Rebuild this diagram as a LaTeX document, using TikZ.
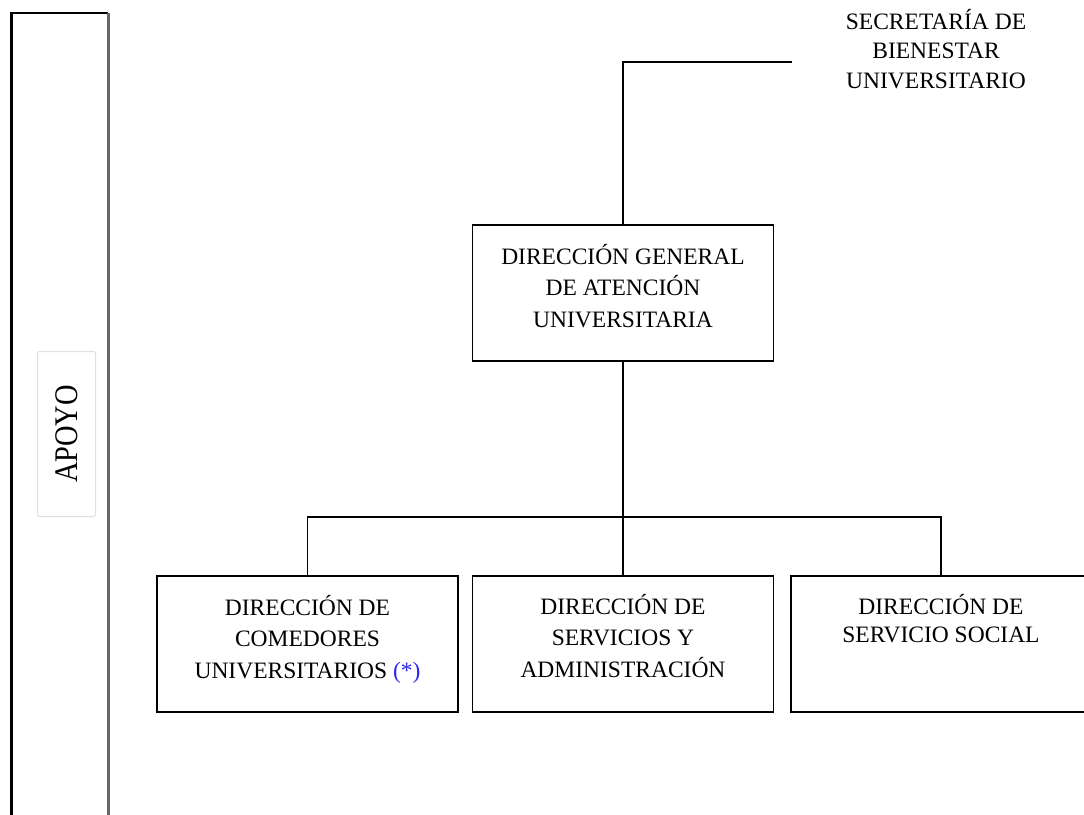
\documentclass[tikz,border=0pt]{standalone}
\usepackage{fontspec}
\setmainfont{Liberation Serif}
\definecolor{notecolor}{RGB}{40,40,235}
\begin{document}
\begin{tikzpicture}[x=1pt,y=-1pt,
  unitbox/.style={draw=black, line width=1.7pt, rectangle, inner sep=0pt,
    minimum width=301pt, minimum height=136pt},
  boxtext/.style={anchor=north, inner sep=0pt, align=center,
    font=\fontsize{23.5}{31.5}\selectfont},
  link/.style={draw=black, line width=1.5pt}]
\useasboundingbox (0,0) rectangle (1084,814);
\clip (0,0) rectangle (1084,814);

% support column on the left
\node[minimum width=96.5pt, minimum height=830pt, inner sep=0pt, anchor=north west]
  (col) at (11.5,13) {};
\draw[line width=2.2pt, black] (col.south west) -- (col.north west) -- (col.north east);
\draw[line width=2.2pt, black!60] (col.north east) -- (col.south east);

% its rotated tag
\node[draw=black!12, line width=1pt, rounded corners=2pt, rotate=90,
  minimum width=165pt, minimum height=58pt, inner sep=0pt,
  font=\fontsize{33}{33}\selectfont] (apoyo) at (66.5,434) {\scalebox{0.86}[1]{APOYO}};

% head unit
\node[boxtext, font=\fontsize{23.5}{29.5}\selectfont] (sec) at (936,5)
  {\rule{0pt}{24pt}SECRETARÍA DE\\BIENESTAR\\UNIVERSITARIO};
\coordinate (secend) at (792,62);

% general direction
\node[unitbox] (gen) at (623,293) {};
\node[boxtext] (gentext) at ([yshift=-16pt]gen.north)
  {\rule{0pt}{24pt}DIRECCIÓN GENERAL\\DE ATENCIÓN\\UNIVERSITARIA};

% three directions
\node[unitbox] (comedores) at (307.5,644) {};
\node[unitbox] (servicios) at (623,644) {};
\node[unitbox, minimum width=300pt] (social) at (941,644) {};

\node[boxtext] (comedorestext) at ([yshift=-16pt]comedores.north)
  {\rule{0pt}{24pt}DIRECCIÓN DE\\COMEDORES\\UNIVERSITARIOS {\color{notecolor}(*)}};
\node[boxtext] (serviciostext) at ([yshift=-15pt]servicios.north)
  {\rule{0pt}{24pt}DIRECCIÓN DE\\SERVICIOS Y\\ADMINISTRACIÓN};
\node[boxtext, font=\fontsize{23.5}{28}\selectfont] (socialtext) at ([yshift=-15pt]social.north)
  {\rule{0pt}{24pt}DIRECCIÓN DE\\SERVICIO SOCIAL};

% connectors
\draw[link] (gen.north) |- (secend);
\coordinate (bus) at (623,517);
\draw[link] (gen.south) -- (servicios.north);
\draw[link] (comedores.north) |- (bus) -| (social.north);
\end{tikzpicture}
\end{document}
